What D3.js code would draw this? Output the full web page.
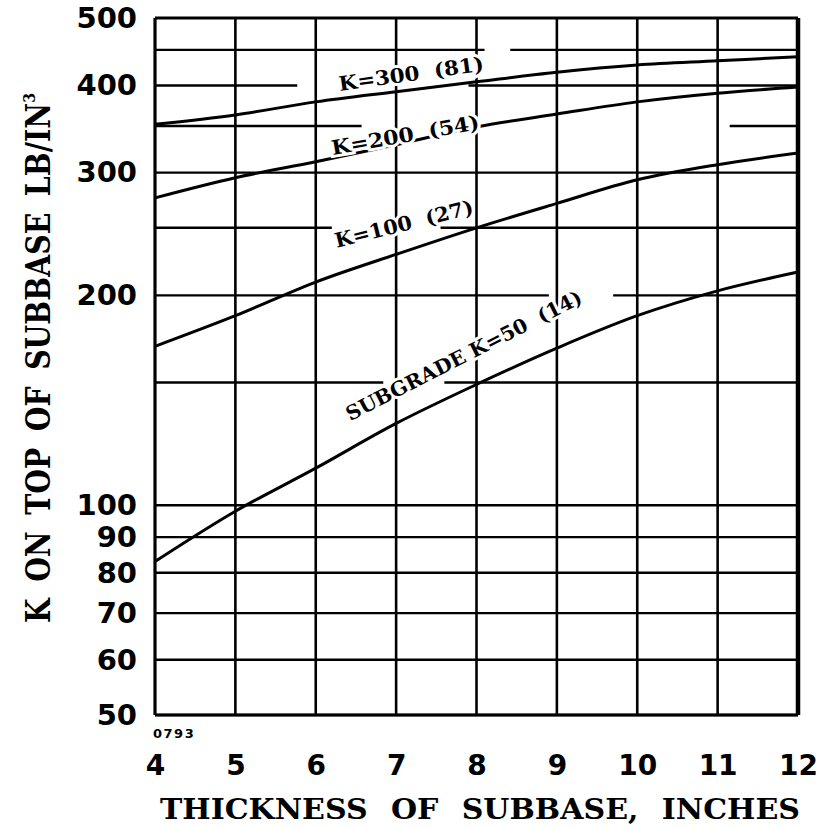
<!DOCTYPE html>
<html>
<head>
<meta charset="utf-8">
<script src="https://cdn.jsdelivr.net/npm/d3@7"></script>
<style>
  body { margin: 0; background: #fff; }
  svg { display: block; }
</style>
</head>
<body>
<div id="vis"></div>
<script>
// values
const thickness = [4, 5, 6, 7, 8, 9, 10, 11, 12];
const kSubgrade50 = [83, 98, 113, 131, 149, 168, 187, 203, 216];
const k100 = [169, 187, 209, 229, 250, 271, 293, 308, 320];
const k200 = [276, 295, 311, 329, 349, 364, 379, 390, 398];
const k300 = [352, 363, 379, 392, 405, 418, 428, 434, 440];

const yTickValues = [50, 60, 70, 80, 90, 100, 200, 300, 400, 500];
const yGridValues = [50, 60, 70, 80, 90, 100, 150, 200, 250, 300, 350, 400, 450, 500];
const curveNames = ["K=300  (81)", "K=200  (54)", "K=100  (27)", "SUBGRADE K=50  (14)"];

// where the printed grid lines are broken (thickness units)
const gridGaps = [
  { k: 450, from: 8.1, to: 8.42 },
  { k: 400, from: 5.77, to: 7.9 },
  { k: 350, from: 6.57, to: 11.15 },
  { k: 250, from: 6.2, to: 7.55 },
  { k: 200, from: 8.9, to: 9.7 },
  { k: 150, from: 6.84, to: 7.6 }
];

const width = 822;
const height = 828;

const svg = d3.select("#vis")
  .append("svg")
  .attr("width", width)
  .attr("height", height);

const x = d3.scaleLinear().domain([4, 12]).range([155, 798]);
const y = d3.scaleLog().domain([50, 500]).range([715, 18]);

// horizontal grid, split where the original has gaps
const grid = svg.append("g").attr("stroke", "#000").attr("stroke-width", 2.4);

yGridValues.forEach(function (k) {
  let pieces = [[4, 12]];
  gridGaps.filter(g => g.k === k).forEach(function (g) {
    pieces = pieces.flatMap(p => {
      if (g.to <= p[0] || g.from >= p[1]) return [p];
      const out = [];
      if (g.from > p[0]) out.push([p[0], g.from]);
      if (g.to < p[1]) out.push([g.to, p[1]]);
      return out;
    });
  });
  pieces.forEach(function (p) {
    grid.append("line")
      .attr("x1", x(p[0])).attr("x2", x(p[1]))
      .attr("y1", y(k)).attr("y2", y(k))
      .attr("stroke-width", k === 500 ? 3 : 2.4);
  });
});

grid.selectAll(".v")
  .data(thickness)
  .enter().append("line")
  .attr("x1", d => x(d)).attr("x2", d => x(d))
  .attr("y1", y(50)).attr("y2", y(500))
  .attr("stroke-width", d => d === 12 ? 4.5 : (d === 4 ? 3.2 : 2.6));

svg.append("line")
  .attr("x1", x(4)).attr("x2", x(12))
  .attr("y1", y(50)).attr("y2", y(50))
  .attr("stroke", "#000").attr("stroke-width", 3.2);

// curves
const series = [k300, k200, k100, kSubgrade50];
const line = d3.line()
  .x((d, i) => x(thickness[i]))
  .y(d => y(d))
  .curve(d3.curveCatmullRom.alpha(0.5));

svg.append("g")
  .selectAll("path")
  .data(series)
  .enter().append("path")
  .attr("d", line)
  .attr("fill", "none")
  .attr("stroke", "#000")
  .attr("stroke-width", 3);

// curve labels, placed along each curve
const labelSpots = [
  { t: 6.30, k: 393, angle: -8, len: 146 },
  { t: 6.21, k: 318, angle: -10, len: 150 },
  { t: 6.26, k: 234, angle: -14, len: 142 },
  { t: 6.43, k: 132, angle: -27, len: 262 }
];

svg.append("g")
  .selectAll("text")
  .data(curveNames)
  .enter().append("text")
  .attr("transform", (d, i) => "translate(" + x(labelSpots[i].t) + "," + y(labelSpots[i].k) + ") rotate(" + labelSpots[i].angle + ")")
  .attr("textLength", (d, i) => labelSpots[i].len)
  .attr("lengthAdjust", "spacingAndGlyphs")
  .attr("font-family", "DejaVu Serif")
  .attr("font-weight", "bold")
  .attr("font-size", 20)
  .attr("fill", "#000")
  .attr("stroke", "#fff")
  .attr("stroke-width", 6)
  .attr("paint-order", "stroke")
  .style("white-space", "pre")
  .text(d => d);

// axes
const yAxis = svg.append("g")
  .attr("transform", "translate(" + x(4) + ",0)")
  .call(d3.axisLeft(y).tickValues(yTickValues).tickSize(0).tickPadding(18).tickFormat(d3.format("d")));
yAxis.select(".domain").remove();
yAxis.selectAll("text")
  .attr("font-family", "DejaVu Sans")
  .attr("font-weight", "bold")
  .attr("font-size", 29)
  .attr("fill", "#000");

const xAxis = svg.append("g")
  .attr("transform", "translate(0," + y(50) + ")")
  .call(d3.axisBottom(x).tickValues(thickness).tickSize(0).tickPadding(40).tickFormat(d3.format("d")));
xAxis.select(".domain").remove();
xAxis.selectAll("text")
  .attr("font-family", "DejaVu Sans")
  .attr("font-weight", "bold")
  .attr("font-size", 28)
  .attr("fill", "#000");

// small plate number
svg.append("text")
  .attr("x", 153).attr("y", 738)
  .attr("font-family", "DejaVu Sans")
  .attr("font-weight", "bold")
  .attr("font-size", 13)
  .attr("letter-spacing", 1.5)
  .text("0793");

// axis titles
svg.append("text")
  .attr("x", 480).attr("y", 819)
  .attr("text-anchor", "middle")
  .attr("font-family", "DejaVu Serif")
  .attr("font-weight", "bold")
  .attr("font-size", 28)
  .attr("word-spacing", 12)
  .attr("textLength", 640)
  .attr("lengthAdjust", "spacingAndGlyphs")
  .text("THICKNESS OF SUBBASE, INCHES");

const yTitle = svg.append("text")
  .attr("transform", "translate(50,358) rotate(-90)")
  .attr("text-anchor", "middle")
  .attr("font-family", "DejaVu Serif")
  .attr("font-weight", "bold")
  .attr("font-size", 34)
  .attr("word-spacing", 8)
  .attr("textLength", 530)
  .attr("lengthAdjust", "spacingAndGlyphs");
yTitle.append("tspan").text("K ON TOP OF SUBBASE LB/IN");
yTitle.append("tspan").attr("dy", -15).attr("font-size", 17).text("3");
</script>
</body>
</html>
